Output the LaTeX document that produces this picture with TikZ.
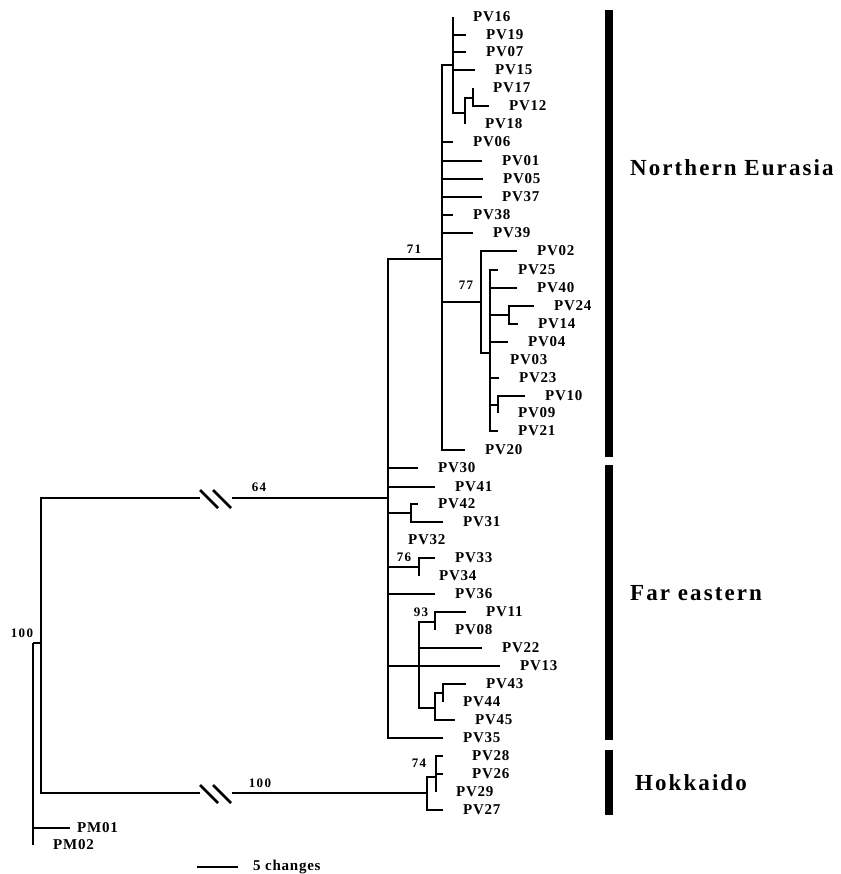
\documentclass[tikz,border=0pt]{standalone}
\usepackage{fontspec}
\setmainfont{Liberation Serif}
\newfontfamily\tipfont[LetterSpace=5]{Liberation Serif}
\newfontfamily\groupfont[LetterSpace=9]{Liberation Serif}
\newfontfamily\bootfont[LetterSpace=10]{Liberation Serif}
\usetikzlibrary{positioning}

\begin{document}
\begin{tikzpicture}[
        x=1pt, y=-1pt,
        branch/.style={line width=2.5pt},
        cutmark/.style={line width=2.8pt},
        bar/.style={line width=8pt},
        tip/.style={anchor=west, inner xsep=20pt, inner ysep=0pt,
                    font={\tipfont\bfseries\fontsize{15}{15}\selectfont}},
        boot/.style={inner sep=0pt,
                     font={\bootfont\bfseries\fontsize{13}{13}\selectfont}},
        group/.style={anchor=west, inner sep=0pt,
                      font={\groupfont\bfseries\fontsize{23}{23}\selectfont}},
    ]
    \useasboundingbox (0,0) rectangle (840,874);

    % --- Internal nodes (x = depth, y = where the parent branch joins) ----
    \coordinate (root) at (33,643);
    \coordinate (n100) at (41,643);
    \coordinate (n64)  at (388,498);
    \coordinate (n71)  at (442,259);
    \coordinate (nA)   at (453,65);
    \coordinate (nB)   at (465,113);
    \coordinate (nC)   at (473,98);
    \coordinate (n77)  at (481,302);
    \coordinate (nD)   at (490,353);
    \coordinate (nE)   at (509,315);
    \coordinate (nF)   at (498,405);
    \coordinate (nG)   at (411,513);
    \coordinate (n76)  at (419,567);
    \coordinate (nI)   at (419,666);
    \coordinate (n93)  at (435,622);
    \coordinate (nJ)   at (435,708);
    \coordinate (nK)   at (443,693);
    \coordinate (nL)   at (427,793);
    \coordinate (nM)   at (436,777);
    \coordinate (cut64)  at (216,498);
    \coordinate (cut100) at (216,793);

    % --- Terminal taxa (west anchor = end of the branch) ------------------
    \node[tip] (pv16) at (453,17)  {PV16};
    \node[tip] (pv19) at (466,35)  {PV19};
    \node[tip] (pv07) at (466,52)  {PV07};
    \node[tip] (pv15) at (475,70)  {PV15};
    \node[tip] (pv17) at (473,88)  {PV17};
    \node[tip] (pv12) at (489,106) {PV12};
    \node[tip] (pv18) at (465,124) {PV18};
    \node[tip] (pv06) at (453,142) {PV06};
    \node[tip] (pv01) at (482,161) {PV01};
    \node[tip] (pv05) at (483,179) {PV05};
    \node[tip] (pv37) at (482,197) {PV37};
    \node[tip] (pv38) at (453,215) {PV38};
    \node[tip] (pv39) at (473,233) {PV39};
    \node[tip] (pv02) at (517,251) {PV02};
    \node[tip] (pv25) at (498,270) {PV25};
    \node[tip] (pv40) at (517,288) {PV40};
    \node[tip] (pv24) at (534,306) {PV24};
    \node[tip] (pv14) at (518,324) {PV14};
    \node[tip] (pv04) at (508,342) {PV04};
    \node[tip] (pv03) at (490,360) {PV03};
    \node[tip] (pv23) at (499,378) {PV23};
    \node[tip] (pv10) at (525,396) {PV10};
    \node[tip] (pv09) at (498,413) {PV09};
    \node[tip] (pv21) at (498,431) {PV21};
    \node[tip] (pv20) at (465,450) {PV20};
    \node[tip] (pv30) at (418,468) {PV30};
    \node[tip] (pv41) at (435,487) {PV41};
    \node[tip] (pv42) at (418,504) {PV42};
    \node[tip] (pv31) at (443,522) {PV31};
    \node[tip] (pv32) at (388,540) {PV32};
    \node[tip] (pv33) at (435,558) {PV33};
    \node[tip] (pv34) at (419,576) {PV34};
    \node[tip] (pv36) at (435,594) {PV36};
    \node[tip] (pv11) at (466,612) {PV11};
    \node[tip] (pv08) at (435,630) {PV08};
    \node[tip] (pv22) at (482,648) {PV22};
    \node[tip] (pv13) at (500,666) {PV13};
    \node[tip] (pv43) at (466,684) {PV43};
    \node[tip] (pv44) at (443,702) {PV44};
    \node[tip] (pv45) at (455,720) {PV45};
    \node[tip] (pv35) at (443,738) {PV35};
    \node[tip, inner xsep=29pt] (pv28) at (443,756) {PV28};
    \node[tip, inner xsep=29pt] (pv26) at (443,774) {PV26};
    \node[tip] (pv29) at (436,792) {PV29};
    \node[tip] (pv27) at (443,810) {PV27};
    \node[tip, inner xsep=7pt] (pm01) at (70,828) {PM01};
    \node[tip] (pm02) at (33,845) {PM02};

    % --- Branches ---------------------------------------------------------
    \draw[branch] (nC) |- (pv17.west) (nC) |- (pv12.west);
    \draw[branch] (nB) |- (nC) (nB) |- (pv18.west);
    \draw[branch] (nA) |- (pv16.west) (nA) |- (pv19.west) (nA) |- (pv07.west)
        (nA) |- (pv15.west) (nA) |- (nB);
    \draw[branch] (nE) |- (pv24.west) (nE) |- (pv14.west);
    \draw[branch] (nF) |- (pv10.west) (nF) |- (pv09.west);
    \draw[branch] (nD) |- (pv25.west) (nD) |- (pv40.west) (nD) |- (nE)
        (nD) |- (pv04.west) (nD) |- (pv03.west) (nD) |- (pv23.west)
        (nD) |- (nF) (nD) |- (pv21.west);
    \draw[branch] (n77) |- (pv02.west) (n77) |- (nD);
    \draw[branch] (n71) |- (nA) (n71) |- (pv06.west) (n71) |- (pv01.west)
        (n71) |- (pv05.west) (n71) |- (pv37.west) (n71) |- (pv38.west)
        (n71) |- (pv39.west) (n71) |- (n77) (n71) |- (pv20.west);
    \draw[branch] (nG) |- (pv42.west) (nG) |- (pv31.west);
    \draw[branch] (n76) |- (pv33.west) (n76) |- (pv34.west);
    \draw[branch] (n93) |- (pv11.west) (n93) |- (pv08.west);
    \draw[branch] (nK) |- (pv43.west) (nK) |- (pv44.west);
    \draw[branch] (nJ) |- (nK) (nJ) |- (pv45.west);
    \draw[branch] (nI) |- (n93) (nI) |- (pv22.west) (nI) |- (pv13.west)
        (nI) |- (nJ);
    \draw[branch] (n64) |- (n71) (n64) |- (pv30.west) (n64) |- (pv41.west)
        (n64) |- (nG) (n64) |- (pv32.west) (n64) |- (n76)
        (n64) |- (pv36.west) (n64) |- (nI) (n64) |- (pv35.west);
    \draw[branch] (nM) |- (pv28.west) (nM) |- (pv26.west) (nM) |- (pv29.west);
    \draw[branch] (nL) |- (nM) (nL) |- (pv27.west);
    \draw[branch] (root) -- (n100) (root) |- (pm01.west) (root) |- (pm02.west);

    % Long branches, shortened with a break
    \draw[branch] (n100) |- ([xshift=-16pt]cut64);
    \draw[branch] ([xshift=16pt]cut64) -- (n64);
    \draw[branch] (n100) |- ([xshift=-16pt]cut100);
    \draw[branch] ([xshift=16pt]cut100) -- (nL);
    \draw[cutmark] ([shift={(-16,-8)}]cut64) -- ++(18,18)
                   ([shift={(-3,-8)}]cut64) -- ++(18,18);
    \draw[cutmark] ([shift={(-16,-8)}]cut100) -- ++(18,18)
                   ([shift={(-3,-8)}]cut100) -- ++(18,18);

    % --- Bootstrap values -------------------------------------------------
    \node[boot] (b71)  at (414,249) {71};
    \node[boot] (b77)  at (466,285) {77};
    \node[boot] (b64)  at (259,487) {64};
    \node[boot] (b76)  at (404,557) {76};
    \node[boot] (b93)  at (421,612) {93};
    \node[boot] (b74)  at (419,763) {74};
    \node[boot] (b100) at (260,783) {100};
    \node[boot] (broot) at (22,633) {100};

    % --- Geographic groups ------------------------------------------------
    \draw[bar] (609,10)  -- (609,457);
    \draw[bar] (609,465) -- (609,740);
    \draw[bar] (609,750) -- (609,815);
    \node[group] (northern) at (630,168) {Northern Eurasia};
    \node[group] (fareast)  at (630,593) {Far eastern};
    \node[group] (hokkaido) at (635,783) {Hokkaido};

    % --- Scale bar --------------------------------------------------------
    \coordinate (scaleL) at (197,867);
    \coordinate (scaleR) at (238,867);
    \draw[branch] (scaleL) -- (scaleR);
    \node[tip, inner xsep=0pt, font={\tipfont\bfseries\fontsize{15}{15}\selectfont},
          right=15pt of scaleR] (scale) {5 changes};

\end{tikzpicture}
\end{document}
